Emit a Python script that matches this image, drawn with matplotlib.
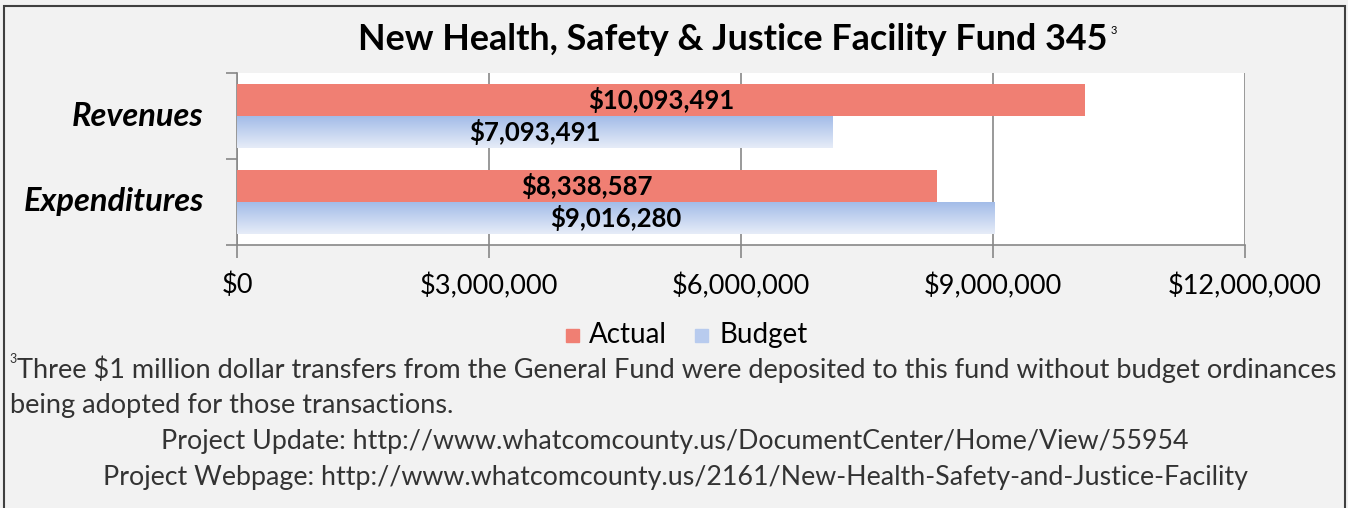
import numpy as np
import matplotlib.pyplot as plt
from matplotlib.patches import Rectangle
from matplotlib.ticker import FuncFormatter

# Fund 345 revenues / expenditures
categories = ["Revenues", "Expenditures"]
actual = [10093491, 8338587]
budget = [7093491, 9016280]
xticks = [0, 3000000, 6000000, 9000000, 12000000]

W, H = 1348, 508
plt.rcParams['font.family'] = ['Lato', 'DejaVu Sans']

fig = plt.figure(figsize=(W / 100, H / 100), dpi=100)
fig.patch.set_facecolor('#f2f2f2')

def px(x, y):
    return x / W, 1 - y / H

# outer frame
fig.patches.append(Rectangle(px(4, 520), (1345 - 4) / W, (520 - 6) / H,
                             transform=fig.transFigure, fill=False,
                             edgecolor='#404040', linewidth=1.5))

left, top, right, bottom = 237, 73, 1245, 245
ax = fig.add_axes([left / W, 1 - bottom / H, (right - left) / W, (bottom - top) / H])
ax.set_facecolor('white')

ypos = np.arange(len(categories))
h = 0.37
red = '#f07f73'
grad = np.linspace(0, 1, 64).reshape(-1, 1)
blue_cmap = plt.matplotlib.colors.LinearSegmentedColormap.from_list('b', ['#a3bce8', '#e6ecf8'])

for i, (a, b) in enumerate(zip(actual, budget)):
    ax.barh(ypos[i] - h / 2, a, height=h, color=red, zorder=3)
    ax.imshow(grad, cmap=blue_cmap, aspect='auto', zorder=3,
              extent=(0, b, ypos[i] + h, ypos[i]), interpolation='bilinear')
    ax.text(a / 2, ypos[i] - h / 2, f"${a:,.0f}", ha='center', va='center',
            fontsize=18.5, fontweight='bold', zorder=4)
    ax.text(b / 2, ypos[i] + h / 2, f"${b:,.0f}", ha='center', va='center',
            fontsize=18.5, fontweight='bold', zorder=4)

ax.set_xlim(0, 12000000)
ax.set_ylim(1.5, -0.5)
ax.set_xticks(xticks)
ax.xaxis.set_major_formatter(FuncFormatter(lambda v, p: f"${v:,.0f}"))
ax.set_yticks([-0.5, 0.5, 1.5])
ax.set_yticklabels([])
ax.grid(axis='x', color='#888888', linewidth=1.2, zorder=0)
for s in ['top', 'right']:
    ax.spines[s].set_visible(False)
for s in ['left', 'bottom']:
    ax.spines[s].set_color('#888888')
    ax.spines[s].set_linewidth(1.2)
ax.tick_params(axis='x', length=9, width=1.2, color='#888888', labelsize=19.5, pad=11)
ax.tick_params(axis='y', length=8, width=1.2, color='#888888')

for i, c in enumerate(categories):
    ax.text(-0.033, ypos[i], c, transform=ax.get_yaxis_transform(), ha='right',
            va='center', fontsize=23.5, fontweight='bold', style='italic')

# title with footnote marker
fig.text(*px(733, 40), "New Health, Safety & Justice Facility Fund 345", ha='center',
         va='center', fontsize=25.8, fontweight='bold')
fig.text(*px(1114, 30), "3", ha='center', va='center', fontsize=8)

# legend
fig.patches.append(Rectangle(px(566, 342), 13 / W, 13 / H, transform=fig.transFigure,
                             color=red))
fig.patches.append(Rectangle(px(695, 342), 13 / W, 13 / H, transform=fig.transFigure,
                             color='#b8cbee'))
fig.text(*px(589, 335), "Actual", ha='left', va='center', fontsize=20)
fig.text(*px(719, 335), "Budget", ha='left', va='center', fontsize=20)

foot = '#333333'
fig.text(*px(9, 359), "3", ha='left', va='center', fontsize=9, color=foot)
fig.text(*px(17, 369), "Three $1 million dollar transfers from the General Fund were deposited "
         "to this fund without budget ordinances", ha='left', va='center', fontsize=19.5, color=foot)
fig.text(*px(10, 405), "being adopted for those transactions.", ha='left', va='center',
         fontsize=19.5, color=foot)
fig.text(*px(675, 442), "Project Update: http://www.whatcomcounty.us/DocumentCenter/Home/View/55954",
         ha='center', va='center', fontsize=19.3, color=foot)
fig.text(*px(675, 478), "Project Webpage: http://www.whatcomcounty.us/2161/New-Health-Safety-and-Justice-Facility",
         ha='center', va='center', fontsize=19.3, color=foot)

fig.savefig('out.png', dpi=100, facecolor=fig.get_facecolor())
